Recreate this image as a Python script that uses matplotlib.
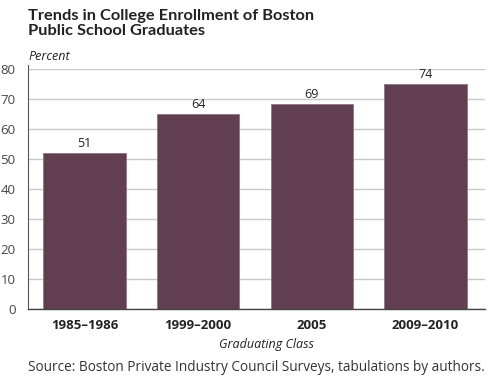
import matplotlib
matplotlib.use("Agg")
import matplotlib.pyplot as plt

categories = ["1985\u20131986", "1999\u20132000", "2005", "2009\u20132010"]
bar_heights = [52, 65, 68.3, 75]
value_labels = ["51", "64", "69", "74"]
yticks = [0, 10, 20, 30, 40, 50, 60, 70, 80]

plt.rcParams['font.family'] = ['Open Sans', 'DejaVu Sans']

fig = plt.figure(figsize=(5.0, 3.84), dpi=100)
ax = fig.add_axes([0.056, 0.1945, 0.914, 0.625])

x = list(range(len(categories)))
ax.bar(x, bar_heights, width=0.724, color="#613f50", edgecolor="#8f7585",
       linewidth=0.6, zorder=3)
for xi, h, lab in zip(x, bar_heights, value_labels):
    ax.text(xi, h + 1.2, lab, ha="center", va="bottom", fontsize=9,
            color="#222222")

ax.set_xlim(-0.497, 3.523)
ax.set_ylim(0, 80)
ax.set_yticks(yticks)
ax.set_yticklabels([str(t) for t in yticks], fontsize=9.5, color="#444444")
ax.set_xticks(x)
ax.set_xticklabels(categories, fontsize=9.5, fontweight="bold", color="#222222")
ax.tick_params(axis="both", length=0)
ax.tick_params(axis="y", pad=9)
ax.tick_params(axis="x", pad=7)
ax.yaxis.grid(True, color="#c8c8c8", linewidth=1.0, zorder=0)
ax.set_axisbelow(True)
for s in ["top", "right"]:
    ax.spines[s].set_visible(False)
ax.spines["left"].set_color("#555555")
ax.spines["bottom"].set_color("#444444")
ax.spines["left"].set_linewidth(0.8)
ax.spines["bottom"].set_linewidth(1.0)
ax.spines["left"].set_bounds(0, 81.5)

fig.text(0.057, 0.902, "Trends in College Enrollment of Boston\nPublic School Graduates",
         fontsize=11.8, fontweight="bold", color="#222222", ha="left", va="bottom",
         linespacing=1.1, family=["Lato", "DejaVu Sans"])
fig.text(0.057, 0.853, "Percent", fontsize=9, style="italic", color="#222222",
         ha="left", va="center")
fig.text(0.532, 0.102, "Graduating Class", fontsize=9, style="italic",
         color="#222222", ha="center", va="center")
fig.text(0.057, 0.044, "Source: Boston Private Industry Council Surveys, tabulations by authors.",
         fontsize=9.8, color="#333333", ha="left", va="center")

fig.savefig("out.png", dpi=100)
